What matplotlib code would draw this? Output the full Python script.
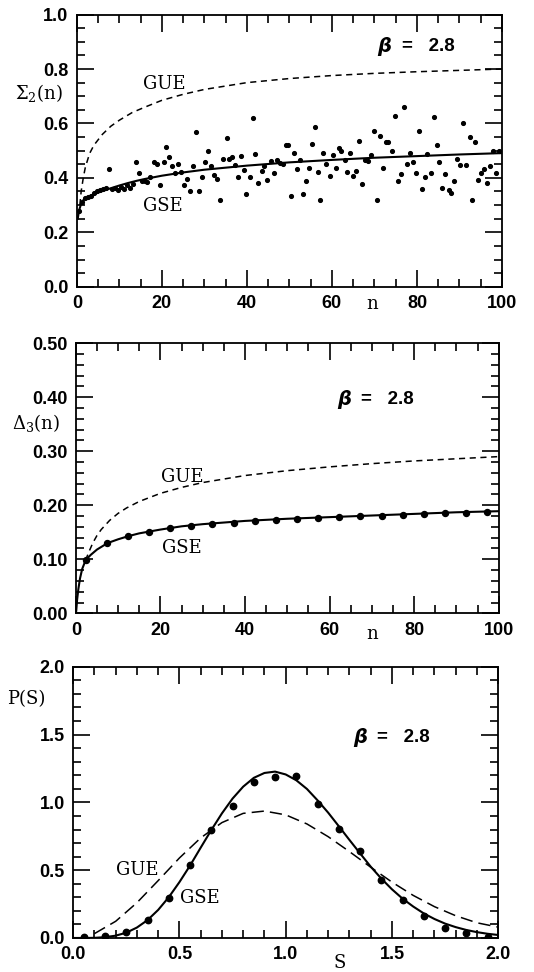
import matplotlib
matplotlib.use("Agg")
import matplotlib.pyplot as plt
from matplotlib.ticker import MultipleLocator, FormatStrFormatter

plt.rcParams["mathtext.fontset"] = "dejavuserif"

# --- Sigma_2(n) panel -------------------------------------------------------
sig_n = [0.6, 1.3, 2.0, 2.7, 3.4, 4.1, 4.8, 5.5, 6.2, 6.9, 7.5, 8.2, 8.9, 9.6,
         10.3, 11.0, 11.7, 12.4, 13.1,
         14.0, 14.6, 15.3, 16.0, 16.6, 17.3, 18.2, 18.8, 19.6, 20.4, 21.0, 21.7,
         22.4, 23.1, 23.8, 24.4, 25.2, 26.0, 26.7, 27.4, 28.1, 28.7, 29.5, 30.1,
         30.8, 31.5, 32.2, 32.9, 33.6, 34.4, 35.2, 35.8, 36.4, 37.3, 37.9, 38.5,
         39.3, 39.9, 40.7, 41.4, 42.0, 42.7, 43.5, 44.1, 44.8, 45.6, 46.3, 47.0,
         47.7, 48.4, 49.1, 49.7, 50.4, 51.1, 51.8, 52.5, 53.2, 53.9, 54.6, 55.3,
         56.0, 56.7, 57.3, 58.0, 58.7, 59.5, 60.2, 60.9, 61.6, 62.1, 63.0, 63.6,
         64.2, 65.0, 65.7, 66.4, 67.1, 67.8, 68.5, 69.2, 69.9, 70.6, 71.3, 72.0,
         72.7, 73.3, 74.1, 74.9, 75.5, 76.2, 76.9, 77.6, 78.3, 79.0, 79.7, 80.4,
         81.1, 81.8, 82.4, 83.2, 83.9, 84.6, 85.3, 86.0, 86.7, 87.5, 88.1, 88.8,
         89.5, 90.2, 90.9, 91.6, 92.4, 93.0, 93.7, 94.4, 95.1, 95.7, 96.5, 97.3,
         97.9, 98.6, 99.3]
sig_v = [0.28, 0.31, 0.325, 0.33, 0.335, 0.345, 0.35, 0.357, 0.36, 0.362, 0.434,
         0.36, 0.362, 0.355, 0.365, 0.36, 0.375, 0.363, 0.378,
         0.458, 0.417, 0.39, 0.388, 0.385, 0.405, 0.46, 0.45, 0.374, 0.458, 0.515,
         0.475, 0.445, 0.417, 0.45, 0.42, 0.374, 0.395, 0.35, 0.445, 0.57, 0.35,
         0.405, 0.459, 0.498, 0.444, 0.41, 0.396, 0.32, 0.469, 0.546, 0.469,
         0.477, 0.449, 0.405, 0.482, 0.43, 0.34, 0.402, 0.621, 0.486, 0.38,
         0.427, 0.442, 0.393, 0.461, 0.417, 0.464, 0.454, 0.452, 0.52, 0.519,
         0.334, 0.493, 0.433, 0.466, 0.339, 0.387, 0.438, 0.525, 0.587, 0.42,
         0.317, 0.491, 0.45, 0.407, 0.485, 0.438, 0.51, 0.5, 0.466, 0.42, 0.491,
         0.407, 0.426, 0.537, 0.377, 0.464, 0.463, 0.485, 0.574, 0.319, 0.553,
         0.436, 0.53, 0.53, 0.5, 0.629, 0.39, 0.415, 0.659, 0.451, 0.492, 0.46,
         0.417, 0.571, 0.358, 0.405, 0.487, 0.417, 0.623, 0.52, 0.458, 0.364,
         0.415, 0.356, 0.346, 0.387, 0.469, 0.448, 0.601, 0.447, 0.552, 0.317,
         0.531, 0.393, 0.417, 0.432, 0.383, 0.445, 0.5, 0.417, 0.497]

sig_gse_n = [0.2, 0.5, 1.0, 1.5, 2, 3, 4, 5, 6, 8, 10, 12, 14, 16, 20, 25, 30, 40,
             50, 60, 70, 80, 90, 100]
sig_gse_v = [0.25, 0.28, 0.305, 0.318, 0.325, 0.333, 0.34, 0.346, 0.352, 0.362,
             0.372, 0.381, 0.389, 0.396, 0.408, 0.42, 0.43, 0.445, 0.457, 0.466,
             0.474, 0.48, 0.486, 0.491]
sig_gue_n = [0.7, 1.0, 1.5, 2, 3, 4, 6, 8, 10, 13, 16, 20, 25, 30, 40, 50, 60, 70,
             80, 90, 100]
sig_gue_v = [0.3, 0.35, 0.4, 0.44, 0.49, 0.52, 0.56, 0.59, 0.612, 0.64, 0.66,
             0.685, 0.707, 0.725, 0.75, 0.765, 0.776, 0.784, 0.79, 0.795, 0.8]

# --- Delta_3(n) panel -------------------------------------------------------
d3_n = [2.3, 7.3, 12.3, 17.3, 22.3, 27.3, 32.3, 37.3, 42.3, 47.3, 52.3, 57.3,
        62.3, 67.3, 72.3, 77.3, 82.3, 87.3, 92.3, 97.3]
d3_v = [0.098, 0.131, 0.143, 0.151, 0.157, 0.162, 0.166, 0.168, 0.171, 0.173,
        0.175, 0.177, 0.178, 0.180, 0.181, 0.182, 0.183, 0.185, 0.186, 0.187]
d3_gse_n = [0.1, 0.3, 0.6, 1.0, 1.5, 2.3, 3.5, 5, 7.5, 10, 12.5, 15, 20, 25, 30,
            40, 50, 60, 70, 80, 90, 100]
d3_gse_v = [0.005, 0.025, 0.045, 0.065, 0.082, 0.098, 0.108, 0.118, 0.13, 0.137,
            0.143, 0.148, 0.155, 0.161, 0.165, 0.171, 0.175, 0.178, 0.181, 0.184,
            0.187, 0.189]
d3_gue_n = [2.3, 3, 4, 5, 6, 8, 10, 12, 15, 20, 25, 30, 40, 50, 60, 70, 80, 90, 100]
d3_gue_v = [0.098, 0.112, 0.13, 0.144, 0.155, 0.172, 0.185, 0.195, 0.207, 0.222,
            0.233, 0.242, 0.255, 0.264, 0.271, 0.277, 0.282, 0.286, 0.29]

# --- P(S) panel -------------------------------------------------------------
ps_s = [0.05, 0.15, 0.25, 0.35, 0.45, 0.55, 0.65, 0.75, 0.85, 0.95, 1.05, 1.15,
        1.25, 1.35, 1.45, 1.55, 1.65, 1.75, 1.85, 1.95]
ps_v = [0.005, 0.012, 0.042, 0.13, 0.295, 0.536, 0.80, 0.974, 1.151, 1.188,
        1.196, 0.991, 0.807, 0.642, 0.43, 0.283, 0.16, 0.076, 0.039, 0.01]
gse_s = [0.0, 0.05, 0.1, 0.15, 0.2, 0.25, 0.3, 0.35, 0.4, 0.45, 0.5, 0.55, 0.6,
         0.65, 0.7, 0.75, 0.8, 0.85, 0.9, 0.95, 1.0, 1.05, 1.1, 1.15, 1.2, 1.25,
         1.3, 1.35, 1.4, 1.45, 1.5, 1.55, 1.6, 1.65, 1.7, 1.75, 1.8, 1.85, 1.9,
         1.95, 2.0]
gse_p = [0.0, 0.0, 0.001, 0.006, 0.017, 0.039, 0.077, 0.132, 0.207, 0.301,
         0.412, 0.534, 0.666, 0.796, 0.919, 1.028, 1.116, 1.181, 1.217, 1.227,
         1.206, 1.163, 1.099, 1.015, 0.924, 0.824, 0.723, 0.624, 0.526, 0.438,
         0.359, 0.29, 0.232, 0.181, 0.14, 0.106, 0.08, 0.059, 0.043, 0.031, 0.022]
gue_s = [0.1, 0.2, 0.3, 0.4, 0.5, 0.6, 0.7, 0.8, 0.9, 1.0, 1.1, 1.2, 1.3, 1.4,
         1.5, 1.6, 1.7, 1.8, 1.9, 2.0]
gue_p = [0.032, 0.123, 0.26, 0.423, 0.59, 0.738, 0.851, 0.919, 0.936, 0.908,
         0.841, 0.747, 0.637, 0.522, 0.412, 0.314, 0.231, 0.164, 0.112, 0.08]

tick_font = dict(family="Liberation Sans", weight="bold", size=13)
serif = dict(family="DejaVu Serif", size=13)


def style_axes(ax, xmaj, xmin, ymaj, ymin, xfmt, yfmt):
    ax.xaxis.set_major_locator(MultipleLocator(xmaj))
    ax.xaxis.set_minor_locator(MultipleLocator(xmin))
    ax.yaxis.set_major_locator(MultipleLocator(ymaj))
    ax.yaxis.set_minor_locator(MultipleLocator(ymin))
    ax.xaxis.set_major_formatter(FormatStrFormatter(xfmt))
    ax.yaxis.set_major_formatter(FormatStrFormatter(yfmt))
    ax.tick_params(which="both", direction="in", top=True, right=True,
                   width=1.2, colors="black")
    ax.tick_params(which="major", length=12, pad=6)
    ax.tick_params(which="minor", length=6)
    for lab in ax.get_xticklabels() + ax.get_yticklabels():
        lab.set_fontfamily(tick_font["family"])
        lab.set_fontweight(tick_font["weight"])
        lab.set_fontsize(tick_font["size"])
    for sp in ax.spines.values():
        sp.set_linewidth(1.3)


def beta_label(ax, x1, x2, y):
    ax.text(x1, y, "β", fontsize=14, fontweight="bold", fontstyle="italic",
            family="DejaVu Sans", va="center", ha="left")
    ax.text(x2, y, "=   2.8", fontsize=13.5, fontweight="bold",
            family="Liberation Sans", va="center", ha="left")


fig = plt.figure(figsize=(5.34, 9.72), dpi=100)

# top panel
ax1 = fig.add_axes([0.144, 0.705, 0.796, 0.280])
ax1.plot(sig_gue_n, sig_gue_v, color="black", lw=1.1, ls=(0, (4, 3)))
ax1.plot(sig_gse_n, sig_gse_v, color="black", lw=1.5)
ax1.plot(sig_n, sig_v, "o", color="black", ms=2.7)
ax1.set_xlim(0, 100)
ax1.set_ylim(0, 1.0)
style_axes(ax1, 20, 5, 0.2, 0.05, "%d", "%.1f")
ax1.text(15.5, 0.746, "GUE", va="center", ha="left", **serif)
ax1.text(15.5, 0.298, "GSE", va="center", ha="left", **serif)
beta_label(ax1, 70.6, 76.5, 0.882)
fig.text(15 / 534, 1 - 93 / 972, r"$\Sigma_2$(n)", va="center", ha="left", **serif)
fig.text(372 / 534, 1 - 304 / 972, "n", va="center", ha="center", **serif)

# middle panel
ax2 = fig.add_axes([0.142, 0.369, 0.792, 0.278])
ax2.plot(d3_gue_n, d3_gue_v, color="black", lw=1.1, ls=(0, (4, 3)))
ax2.plot(d3_gse_n, d3_gse_v, color="black", lw=1.5)
ax2.plot(d3_n, d3_v, "o", color="black", ms=4.3)
ax2.set_xlim(0, 100)
ax2.set_ylim(0, 0.5)
style_axes(ax2, 20, 5, 0.1, 0.02, "%d", "%.2f")
ax2.text(20.1, 0.252, "GUE", va="center", ha="left", **serif)
ax2.text(20.4, 0.120, "GSE", va="center", ha="left", **serif)
beta_label(ax2, 61.7, 67.4, 0.396)
fig.text(12 / 534, 1 - 423 / 972, r"$\Delta_3$(n)", va="center", ha="left", **serif)
fig.text(372 / 534, 1 - 634 / 972, "n", va="center", ha="center", **serif)

# bottom panel
ax3 = fig.add_axes([0.137, 0.035, 0.796, 0.279])
ax3.plot(gue_s, gue_p, color="black", lw=1.1, ls=(0, (8, 4)))
ax3.plot(gse_s, gse_p, color="black", lw=1.5)
ax3.plot(ps_s, ps_v, "o", color="black", ms=4.6)
ax3.set_xlim(0, 2.0)
ax3.set_ylim(0, 2.0)
style_axes(ax3, 0.5, 0.1, 0.5, 0.1, "%.1f", "%.1f")
ax3.text(0.2, 0.502, "GUE", va="center", ha="left", **serif)
ax3.text(0.505, 0.295, "GSE", va="center", ha="left", **serif)
beta_label(ax3, 1.318, 1.43, 1.476)
fig.text(7 / 534, 1 - 699 / 972, "P(S)", va="center", ha="left", **serif)
fig.text(340 / 534, 1 - 963 / 972, "S", va="center", ha="center", **serif)

fig.savefig("out.png", dpi=100)
